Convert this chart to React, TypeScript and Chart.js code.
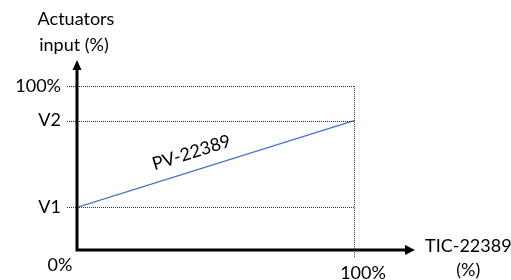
import React, { useEffect, useRef } from "react";
import { Chart, registerables } from "chart.js";

Chart.register(...registerables);

// Data
const xRange = [0, 100]; // TIC-22389 (%)
const V1 = 26;
const V2 = 79;
const pvValues = [V1, V2]; // PV-22389 actuator input at x = 0 and x = 100
const yTickValues = [V1, V2, 100];
const yTickLabels = ["V1", "V2", "100%"];
const xTickValue = 100;
const xTickLabel = "100%";
const originLabel = "0%";
const xAxisTitle = ["TIC-22389", "(%)"];
const yAxisTitle = ["Actuators", "input (%)"];
const seriesLabel = "PV-22389";
const xMax = 122;
const yMax = 116;

const FONT = "18px Lato, 'Open Sans', sans-serif";

const diagramPlugin = {
  id: "diagram",
  afterDatasetsDraw(chart: any) {
    const ctx = chart.ctx;
    const xs = chart.scales.x;
    const ys = chart.scales.y;
    const px = (v: number) => xs.getPixelForValue(v);
    const py = (v: number) => ys.getPixelForValue(v);
    const x0 = px(0);
    const y0 = py(0);

    ctx.save();
    // dotted reference lines
    ctx.setLineDash([1, 1]);
    ctx.lineWidth = 1;
    ctx.strokeStyle = "#333";
    yTickValues.forEach((v) => {
      const y = Math.round(py(v)) + 0.5;
      ctx.beginPath();
      ctx.moveTo(x0 - 10, y);
      ctx.lineTo(px(xTickValue), y);
      ctx.stroke();
    });
    ctx.beginPath();
    const vx = Math.round(px(xTickValue)) + 0.5;
    ctx.moveTo(vx, py(100));
    ctx.lineTo(vx, y0 + 8);
    ctx.stroke();
    ctx.setLineDash([]);

    // axes with arrows
    ctx.strokeStyle = "#000";
    ctx.fillStyle = "#000";
    ctx.lineWidth = 3;
    const xEnd = px(xMax);
    const yEnd = py(yMax);
    ctx.beginPath();
    ctx.moveTo(x0 - 1.5, y0);
    ctx.lineTo(xEnd - 8, y0);
    ctx.moveTo(x0, y0 + 1.5);
    ctx.lineTo(x0, yEnd + 8);
    ctx.stroke();
    ctx.beginPath();
    ctx.moveTo(xEnd, y0);
    ctx.lineTo(xEnd - 10, y0 - 5);
    ctx.lineTo(xEnd - 10, y0 + 5);
    ctx.closePath();
    ctx.fill();
    ctx.beginPath();
    ctx.moveTo(x0, yEnd);
    ctx.lineTo(x0 - 4.5, yEnd + 10);
    ctx.lineTo(x0 + 4.5, yEnd + 10);
    ctx.closePath();
    ctx.fill();

    // texts
    ctx.font = FONT;
    ctx.fillStyle = "#000";
    ctx.textBaseline = "middle";
    ctx.textAlign = "right";
    yTickValues.forEach((v, i) => {
      ctx.fillText(yTickLabels[i], x0 - 16, py(v));
    });
    ctx.textAlign = "center";
    ctx.fillText(originLabel, x0 - 17, y0 + 15);
    ctx.fillText(xTickLabel, px(xTickValue) + 9, y0 + 23);
    ctx.textAlign = "left";
    ctx.fillText(xAxisTitle[0], xEnd + 10, y0 - 4);
    const w = ctx.measureText(xAxisTitle[0]).width;
    ctx.textAlign = "center";
    ctx.fillText(xAxisTitle[1], xEnd + 10 + w / 2, y0 + 20);
    ctx.fillText(yAxisTitle[0], x0 - 1, yEnd - 41);
    ctx.fillText(yAxisTitle[1], x0 - 3, yEnd - 15);

    // series label along the line
    const ax = px(xRange[0]);
    const ay = py(pvValues[0]);
    const bx = px(xRange[1]);
    const by = py(pvValues[1]);
    const ang = Math.atan2(by - ay, bx - ax);
    const t = 0.433;
    const mx = ax + (bx - ax) * t;
    const my = ay + (by - ay) * t;
    const off = 18;
    ctx.translate(mx + Math.sin(ang) * off, my - Math.cos(ang) * off);
    ctx.rotate(ang);
    ctx.textAlign = "center";
    ctx.fillText(seriesLabel, 0, 0);
    ctx.restore();
  },
};

export default function App() {
  const ref = useRef<HTMLCanvasElement>(null);
  useEffect(() => {
    document.body.style.margin = "0";
    if (!ref.current) return;
    const chart = new Chart(ref.current, {
      type: "scatter",
      data: {
        datasets: [
          {
            label: seriesLabel,
            data: xRange.map((x, i) => ({ x, y: pvValues[i] })),
            showLine: true,
            borderColor: "#4472C4",
            borderWidth: 1.25,
            pointRadius: 0,
          },
        ],
      },
      options: {
        responsive: false,
        animation: false,
        layout: { padding: { left: 77, right: 96, top: 60, bottom: 30 } },
        plugins: { legend: { display: false }, tooltip: { enabled: false } },
        scales: {
          x: { type: "linear", min: 0, max: xMax, display: false },
          y: { type: "linear", min: 0, max: yMax, display: false },
        },
      },
      plugins: [diagramPlugin],
    });
    return () => chart.destroy();
  }, []);
  return (
    <div style={{ width: 511, height: 280 }}>
      <canvas ref={ref} width={511} height={280} />
    </div>
  );
}
